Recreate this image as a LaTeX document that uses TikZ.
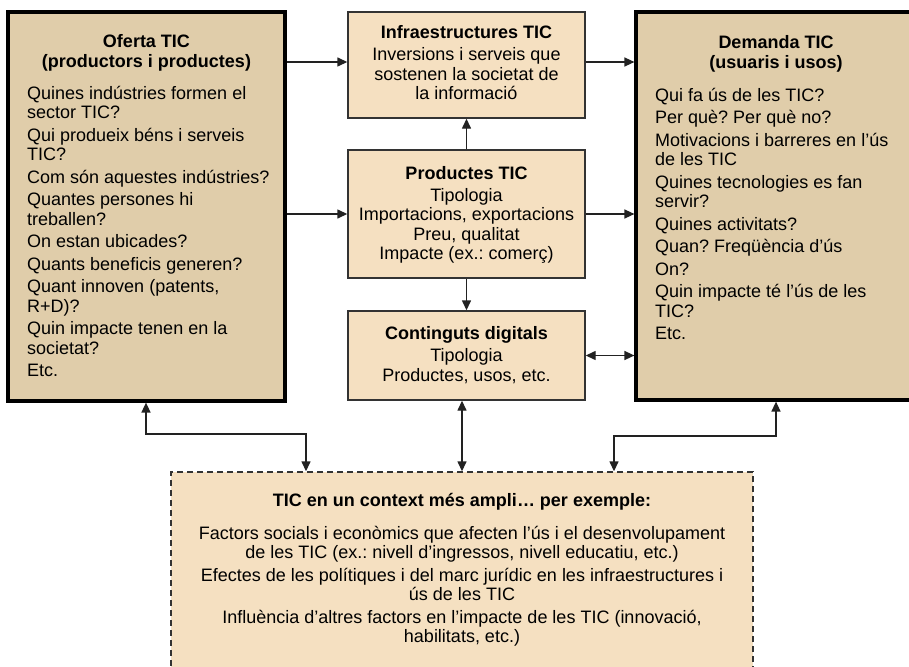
\documentclass[tikz,border=0pt]{standalone}
\usepackage{fontspec}
\setmainfont{Liberation Sans}
\usetikzlibrary{arrows.meta,calc}
\frenchspacing
\definecolor{tanD}{HTML}{E0CDAA}
\definecolor{tanL}{HTML}{F5E0C1}
\definecolor{edge}{HTML}{333333}
\definecolor{lin}{HTML}{222222}
\tikzset{
  bigbox/.style={draw=black, line width=3.2pt, fill=tanD, inner sep=0pt, minimum width=#1},
  midbox/.style={draw=edge, line width=1.4pt, fill=tanL, inner sep=0pt, minimum width=237pt},
  ctxbox/.style={draw=edge, line width=1.4pt, dash pattern=on 6pt off 4pt, fill=tanL, inner sep=0pt},
  txt/.style={inner sep=0pt, font=\fontsize{18}{19.5}\selectfont},
  arr/.style={draw=lin, line width=1.4pt, -{Triangle[length=10pt,width=9pt]}},
  dblarr/.style={draw=lin, line width=1.4pt, {Triangle[length=10pt,width=9pt]}-{Triangle[length=10pt,width=9pt]}},
}
\begin{document}
\frenchspacing
\begin{tikzpicture}[x=1pt,y=-1pt]
\useasboundingbox (0,0) rectangle (909,666);
\clip (0,0) rectangle (909,666);
\fill[white] (0,0) rectangle (909,666);

% boxes
\node[bigbox=277pt, minimum height=389pt] (oferta) at (146.5,206.5) {};
\node[bigbox=280pt, minimum height=388pt] (demanda) at (776,206) {};
\node[midbox, minimum height=106pt] (infra) at (466.5,65) {};
\node[midbox, minimum height=128pt] (prod) at (466.5,214) {};
\node[midbox, minimum height=89pt] (cont) at (466.5,355.5) {};
\node[ctxbox, minimum width=582pt, minimum height=218pt] (context) at (462,581) {};

% texts
\node[txt, anchor=north, align=center, font=\fontsize{18}{20}\selectfont\bfseries] (ofertaT) at (146.5,34) {Oferta TIC\\(productors i productes)};
\node[txt, anchor=north west, align=left] (ofertaB) at (27,86) {Quines indústries formen el\\sector TIC?\\[3pt]Qui produeix béns i serveis\\TIC?\\[3pt]Com són aquestes indústries?\\[3pt]Quantes persones hi\\treballen?\\[3pt]On estan ubicades?\\[3pt]Quants beneficis generen?\\[3pt]Quant innoven (patents,\\R+D)?\\[3pt]Quin impacte tenen en la\\societat?\\[3pt]Etc.};

\node[txt, anchor=north, align=center, font=\fontsize{18}{20}\selectfont\bfseries] (demandaT) at (776,35) {Demanda TIC\\(usuaris i usos)};
\node[txt, anchor=north west, align=left] (demandaB) at (655,88) {Qui fa ús de les TIC?\\[3pt]Per què? Per què no?\\[3pt]Motivacions i barreres en l’ús\\de les TIC\\[3pt]Quines tecnologies es fan\\servir?\\[3pt]Quines activitats?\\[3pt]Quan? Freqüència d’ús\\[3pt]On?\\[3pt]Quin impacte té l’ús de les\\TIC?\\[3pt]Etc.};

\node[txt, anchor=north, align=center] (infraT) at (466.5,25) {\textbf{Infraestructures TIC}\\[3pt]Inversions i serveis que\\sostenen la societat de\\la informació};
\node[txt, anchor=north, align=center] (prodT) at (466.5,166) {\textbf{Productes TIC}\\[2.5pt]Tipologia\\Importacions, exportacions\\Preu, qualitat\\Impacte (ex.: comerç)};
\node[txt, anchor=north, align=center] (contT) at (466.5,326) {\textbf{Continguts digitals}\\[3pt]Tipologia\\Productes, usos, etc.};

\node[txt, anchor=north, align=center, font=\fontsize{18}{20}\selectfont\bfseries] (contextT) at (462,493) {TIC en un context més ampli… per exemple:};
\node[txt, anchor=north, align=center] (contextB) at (462,526) {Factors socials i econòmics que afecten l’ús i el desenvolupament\\de les TIC (ex.: nivell d’ingressos, nivell educatiu, etc.)\\[3pt]Efectes de les polítiques i del marc jurídic en les infraestructures i\\ús de les TIC\\[3pt]Influència d’altres factors en l’impacte de les TIC (innovació,\\habilitats, etc.)};

% connectors
\draw[arr] ([yshift=3pt]oferta.east |- infra.west) -- ([yshift=3pt]infra.west);
\draw[arr] (oferta.east |- prod.west) -- (prod.west);
\draw[arr] ([yshift=3pt]infra.east) -- ([yshift=3pt]infra.east -| demanda.west);
\draw[arr] (prod.east) -- (prod.east -| demanda.west);
\draw[arr] (prod.north) -- (infra.south);
\draw[arr] (prod.south) -- (cont.north);
\draw[dblarr] (cont.east) -- (cont.east -| demanda.west);
\draw[dblarr] (context.north |- cont.south) -- (context.north);

\coordinate (bendL1) at (146,434);
\coordinate (bendL2) at (306,434);
\draw[dblarr] (bendL1 |- oferta.south) -- (bendL1) -- (bendL2) -- (bendL2 |- context.north);
\coordinate (bendR1) at (614,436);
\draw[dblarr] (demanda.south) -- (demanda.south |- bendR1) -- (bendR1) -- (bendR1 |- context.north);
\end{tikzpicture}
\end{document}
